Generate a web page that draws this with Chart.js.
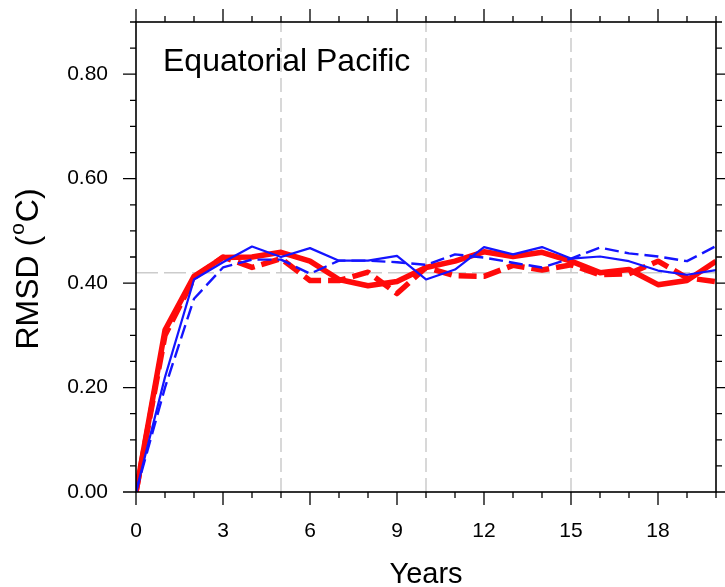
<!DOCTYPE html>
<html lang="en">
<head>
    <meta charset="UTF-8">
    <title>Equatorial Pacific RMSD</title>
    <script src="https://cdn.jsdelivr.net/npm/chart.js"></script>
    <style>
        html, body { margin: 0; padding: 0; background: #fff; }
        #wrap { width: 725px; height: 587px; }
    </style>
</head>
<body>
    <div id="wrap"><canvas id="rmsdChart" width="725" height="587"></canvas></div>

    <script>
        // Lead time in years
        var years = [0, 1, 2, 3, 4, 5, 6, 7, 8, 9, 10, 11, 12, 13, 14, 15, 16, 17, 18, 19, 20];

        // RMSD (degC) per run
        var blueSolid  = [0, 0.22, 0.407, 0.44, 0.47, 0.45, 0.467, 0.443, 0.443, 0.452, 0.407, 0.426, 0.469, 0.455, 0.469, 0.447, 0.451, 0.442, 0.424, 0.416, 0.425];
        var blueDashed = [0, 0.20, 0.37, 0.43, 0.445, 0.445, 0.418, 0.443, 0.443, 0.44, 0.435, 0.455, 0.449, 0.439, 0.43, 0.447, 0.468, 0.457, 0.451, 0.442, 0.471];
        var redSolid   = [0, 0.31, 0.413, 0.449, 0.45, 0.459, 0.442, 0.407, 0.395, 0.403, 0.43, 0.442, 0.46, 0.451, 0.459, 0.442, 0.42, 0.426, 0.397, 0.405, 0.442];
        var redDashed  = [0, 0.30, 0.41, 0.45, 0.43, 0.447, 0.405, 0.405, 0.421, 0.38, 0.43, 0.414, 0.413, 0.434, 0.425, 0.435, 0.416, 0.418, 0.442, 0.41, 0.403];

        // reference level and marker lines
        var refLevel = 0.42;
        var markYears = [5, 10, 15];

        // tick labels
        var xTicks = [0, 3, 6, 9, 12, 15, 18];
        var yTicks = [0, 0.2, 0.4, 0.6, 0.8];

        function pts(arr) {
            return years.map(function (y, i) { return { x: y, y: arr[i] }; });
        }

        var FONT = '"Liberation Sans", Arial, Helvetica, sans-serif';

        // background lines, NCL-style ticks on all four sides, box, title
        var frame = {
            id: 'frame',
            beforeDatasetsDraw: function (chart) {
                var c = chart.ctx, a = chart.chartArea;
                var xs = chart.scales.x, ys = chart.scales.y;
                c.save();
                c.strokeStyle = '#cccccc';
                c.lineWidth = 1.5;
                c.setLineDash([14, 6]);
                markYears.forEach(function (m) {
                    var px = xs.getPixelForValue(m);
                    c.beginPath(); c.moveTo(px, a.bottom); c.lineTo(px, a.top); c.stroke();
                });
                var py = ys.getPixelForValue(refLevel);
                c.setLineDash([22, 6]);
                c.beginPath(); c.moveTo(a.left, py); c.lineTo(a.right, py); c.stroke();
                c.restore();
            },
            afterDraw: function (chart) {
                var c = chart.ctx, a = chart.chartArea;
                var xs = chart.scales.x, ys = chart.scales.y;
                c.save();
                c.strokeStyle = '#000';
                c.lineWidth = 1.3;
                c.beginPath();
                for (var i = 0; i <= 20; i++) {
                    var px = xs.getPixelForValue(i);
                    var len = (i % 3 === 0) ? 13 : 6;
                    c.moveTo(px, a.bottom); c.lineTo(px, a.bottom + len);
                    c.moveTo(px, a.top); c.lineTo(px, a.top - len);
                }
                for (var j = 0; j <= 18; j++) {
                    var v = j * 0.05;
                    var py = ys.getPixelForValue(v);
                    var l2 = (j % 4 === 0) ? 13 : 6;
                    c.moveTo(a.left, py); c.lineTo(a.left - l2, py);
                    c.moveTo(a.right, py); c.lineTo(a.right + l2, py);
                }
                c.stroke();
                c.lineWidth = 1.6;
                c.strokeRect(a.left, a.top, a.right - a.left, a.bottom - a.top);

                // panel title
                c.fillStyle = '#000';
                c.font = '32px ' + FONT;
                c.textBaseline = 'middle';
                c.textAlign = 'left';
                c.fillText('Equatorial Pacific', a.left + 27, 62);

                // y axis title with superscript o
                c.translate(27, 269);
                c.rotate(-Math.PI / 2);
                var t1 = 'RMSD (', t2 = 'o', t3 = 'C)';
                c.font = '32px ' + FONT;
                var w1 = c.measureText(t1).width, w3 = c.measureText(t3).width;
                c.font = '21px ' + FONT;
                var w2 = c.measureText(t2).width;
                var x0 = -(w1 + w2 + w3 + 2) / 2;
                c.textAlign = 'left';
                c.textBaseline = 'alphabetic';
                c.font = '32px ' + FONT;
                c.fillText(t1, x0, 11);
                c.font = '21px ' + FONT;
                c.fillText(t2, x0 + w1 + 1, -3);
                c.font = '32px ' + FONT;
                c.fillText(t3, x0 + w1 + w2 + 2, 11);
                c.restore();
            }
        };

        var ctx = document.getElementById('rmsdChart').getContext('2d');
        var rmsdChart = new Chart(ctx, {
            type: 'line',
            data: {
                datasets: [
                    { label: 'blue solid', data: pts(blueSolid), borderColor: '#1414ff', borderWidth: 2.2 },
                    { label: 'blue dashed', data: pts(blueDashed), borderColor: '#1414ff', borderWidth: 2.4, borderDash: [14, 6] },
                    { label: 'red dashed', data: pts(redDashed), borderColor: '#ff0a0a', borderWidth: 5.5, borderDash: [18, 7] },
                    { label: 'red solid', data: pts(redSolid), borderColor: '#ff0a0a', borderWidth: 5.5 }
                ]
            },
            options: {
                responsive: false,
                animation: false,
                elements: { point: { radius: 0 }, line: { tension: 0, fill: false, borderCapStyle: 'butt', borderJoinStyle: 'round' } },
                layout: { padding: { top: 22, right: 9, left: 0, bottom: 0 } },
                plugins: { legend: { display: false }, tooltip: { enabled: false } },
                scales: {
                    x: {
                        type: 'linear',
                        min: 0,
                        max: 20,
                        afterBuildTicks: function (s) { s.ticks = xTicks.map(function (v) { return { value: v }; }); },
                        afterFit: function (s) { s.height = 95; },
                        grid: { display: false },
                        border: { display: false },
                        ticks: { color: '#000', font: { family: FONT, size: 21 }, padding: 19, maxRotation: 0 },
                        title: { display: true, text: 'Years', color: '#000', font: { family: FONT, size: 29 }, padding: { top: 0, bottom: -5 } }
                    },
                    y: {
                        min: 0,
                        max: 0.9,
                        afterBuildTicks: function (s) { s.ticks = yTicks.map(function (v) { return { value: v }; }); },
                        afterFit: function (s) { s.width = 136; s.paddingTop = 0; },
                        grid: { display: false },
                        border: { display: false },
                        ticks: { color: '#000', font: { family: FONT, size: 21 }, padding: 20, callback: function (v) { return Number(v).toFixed(2); } }
                    }
                }
            },
            plugins: [frame]
        });
    </script>
</body>
</html>
